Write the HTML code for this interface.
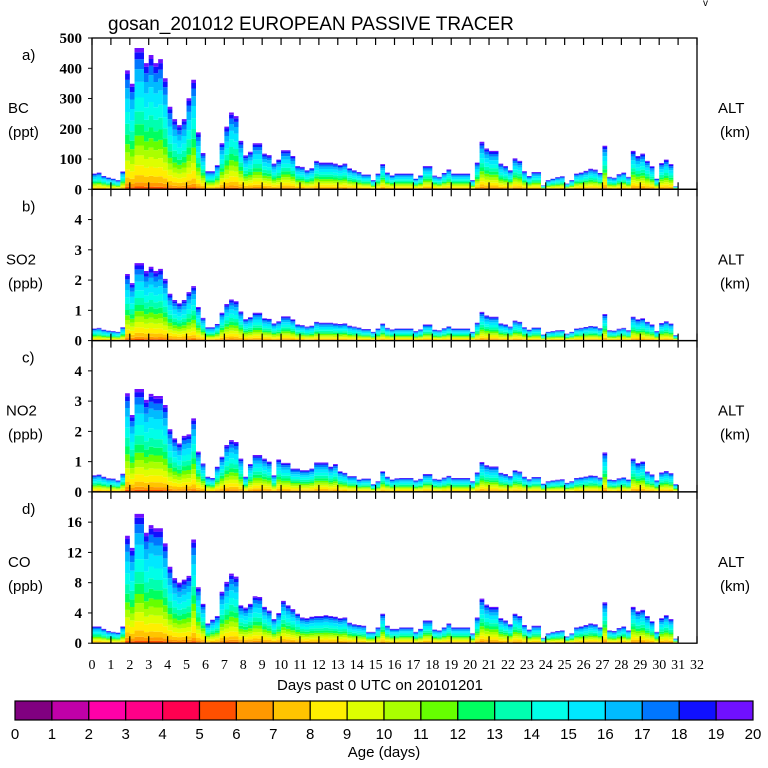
<!DOCTYPE html>
<html><head><meta charset="utf-8"><style>
body{margin:0;background:#fff;width:768px;height:768px;overflow:hidden}
svg{display:block}
.s{font-family:"Liberation Sans",sans-serif;fill:#000}
.r{font-family:"Liberation Serif",serif;fill:#000}
</style></head><body>
<svg id="chart" width="768" height="768" viewBox="0 0 768 768">
<text class="s" x="108" y="30" font-size="19">gosan_201012 EUROPEAN PASSIVE TRACER</text>
<text class="s" x="703" y="6" font-size="10">v</text>
<g id="panels"></g>
<g id="xticks"></g>
<text class="s" x="380" y="690" font-size="15" text-anchor="middle">Days past 0 UTC on 20101201</text>
<g id="cbar"></g>
<text class="s" x="384" y="757" font-size="15" text-anchor="middle">Age (days)</text>
</svg>
<script>
const bcValues=[52,55,44,39,35,30,59,393,349,467,467,417,444,417,430,367,273,232,212,232,301,362,188,120,60,60,80,152,207,254,242,160,112,124,152,152,118,113,85,98,129,129,110,77,74,63,70,94,88,88,88,85,80,85,69,63,57,49,49,30,52,83,55,46,52,52,52,52,35,46,77,77,45,41,54,66,52,52,52,52,30,88,157,135,127,127,85,77,63,102,94,60,44,57,57,13,30,35,40,43,19,30,52,55,61,68,65,54,144,41,38,50,55,41,127,110,118,94,76,35,87,98,83,10];
const so2Values=[.40,.42,.36,.33,.31,.29,.44,2.2,1.9,2.56,2.56,2.3,2.44,2.3,2.37,2.04,1.55,1.34,1.23,1.34,1.6,1.8,1.11,.75,.44,.44,.55,.92,1.21,1.36,1.3,.96,.71,.77,.92,.92,.74,.72,.57,.64,.80,.80,.70,.53,.51,.46,.49,.62,.59,.59,.59,.57,.55,.57,.49,.46,.43,.38,.38,.29,.40,.56,.42,.37,.40,.40,.40,.40,.31,.37,.53,.53,.36,.34,.41,.47,.40,.40,.40,.40,.29,.59,.95,.83,.79,.79,.57,.53,.46,.66,.62,.44,.36,.43,.43,.2,.29,.31,.34,.35,.23,.29,.40,.42,.45,.48,.47,.41,.88,.34,.33,.39,.42,.34,.79,.70,.74,.62,.53,.31,.58,.64,.56,.18];
const no2Values=[.55,.57,.5,.45,.44,.38,.6,3.26,2.54,3.4,3.4,3.04,3.24,3.17,3.17,2.87,2.07,1.77,1.6,1.85,1.9,2.43,1.33,.94,.5,.46,.83,1.16,1.55,1.71,1.65,1.1,.5,.92,1.22,1.22,1.1,1.0,.55,1.07,.96,.96,.77,.77,.72,.72,.77,.97,.97,.97,.83,.92,.68,.63,.52,.52,.41,.44,.44,.25,.35,.68,.5,.41,.45,.46,.46,.46,.38,.43,.59,.59,.43,.41,.47,.53,.46,.46,.46,.46,.35,.64,.99,.88,.84,.84,.63,.59,.52,.71,.67,.5,.42,.49,.49,.27,.35,.38,.4,.42,.3,.35,.46,.48,.51,.54,.53,.47,1.3,.41,.39,.45,.48,.41,1.1,.95,1.0,.67,.58,.38,.64,.69,.62,.25];
const coValues=[2.2,2.2,1.9,1.6,1.5,1.4,2.2,14.2,12.6,17.1,17.1,14.6,15.6,15.2,15.2,13.2,10.1,8.6,8.0,8.4,8.9,13.7,7.4,5.2,2.6,3.1,3.6,6.8,8.1,9.2,8.8,5.0,4.7,5.2,6.2,6.1,4.8,4.3,3.2,4.0,5.6,5.0,4.5,3.9,3.4,3.3,3.5,3.6,3.6,3.7,3.6,3.5,3.3,3.4,2.7,2.5,2.4,2.3,1.5,1.5,2.1,3.9,2.3,1.9,1.9,2.1,2.1,2.1,1.5,1.9,3.0,3.0,1.8,1.7,2.1,2.6,2.1,2.1,2.1,2.1,1.3,3.4,5.9,5.1,4.8,4.8,3.3,3.0,2.5,3.9,3.6,2.4,1.8,2.3,2.3,0.7,1.3,1.5,1.6,1.7,0.9,1.3,2.1,2.2,2.4,2.6,2.5,2.1,5.4,1.7,1.6,2.0,2.2,1.7,4.8,4.2,4.4,3.6,2.9,1.5,3.3,3.7,3.2,0.6];
const ageFractions=[0.02,0.03,0.05,0.07,0.07,0.07,0.07,0.08,0.09,0.10,0.11,0.09,0.07,0.05,0.03];
const ageColors=["#800080","#c000a8","#ff00a8","#ff0088","#ff0050","#ff5000","#ff9900","#ffc400","#ffee00","#ddff00","#aaff00","#66ff00","#00ff60","#00ffb0","#00ffe8","#00e8ff","#00bbff","#0077ff","#1010ff","#7010ff"];
const ageLabels=["0","1","2","3","4","5","6","7","8","9","10","11","12","13","14","15","16","17","18","19","20"];
const dayLabels=["0","1","2","3","4","5","6","7","8","9","10","11","12","13","14","15","16","17","18","19","20","21","22","23","24","25","26","27","28","29","30","31","32"];
const panelDefs=[
 {id:"a",name:"BC",unit:"(ppt)",vals:bcValues,max:500,ticks:["0","100","200","300","400","500"],tv:[0,100,200,300,400,500]},
 {id:"b",name:"SO2",unit:"(ppb)",vals:so2Values,max:5,ticks:["0","1","2","3","4"],tv:[0,1,2,3,4]},
 {id:"c",name:"NO2",unit:"(ppb)",vals:no2Values,max:5,ticks:["0","1","2","3","4"],tv:[0,1,2,3,4]},
 {id:"d",name:"CO",unit:"(ppb)",vals:coValues,max:20,ticks:["0","4","8","12","16"],tv:[0,4,8,12,16]}
];
const NS="http://www.w3.org/2000/svg";
const L=92,R=697,STEP=0.25,PH=151.3,TOP=38;
const X=d=>L+(R-L)*d/32;
function mk(tag,attrs,parent){const e=document.createElementNS(NS,tag);for(const k in attrs)e.setAttribute(k,attrs[k]);parent.appendChild(e);return e;}
const panels=document.getElementById("panels");
panelDefs.forEach((p,pi)=>{
 const top=TOP+pi*PH,bot=top+PH;
 const Y=v=>bot-(bot-top)*v/p.max;
 const g=mk("g",{},panels);
 
 
 const cum=p.vals.map(()=>0);
 ageFractions.forEach((f,k)=>{
  const lowArr=cum.slice();
  p.vals.forEach((v,i)=>{cum[i]+=v*f;});
  let up="";
  p.vals.forEach((v,i)=>{up+="L"+X(i*STEP)+","+Y(cum[i])+"L"+X((i+1)*STEP)+","+Y(cum[i]);});
  let down="";
  for(let i=p.vals.length-1;i>=0;i--){down+="L"+X((i+1)*STEP)+","+Y(lowArr[i])+"L"+X(i*STEP)+","+Y(lowArr[i]);}
  const path=mk("path",{d:"M"+X(0)+","+Y(lowArr[0])+up+down+"Z",fill:ageColors[k+5]},g);
  
  
 });
 const fr=mk("rect",{x:L,y:top,width:R-L,height:bot-top,fill:"none",stroke:"#000","stroke-width":1.3},g);
 
 
 for(let d=0;d<=32;d++){
  const t1=mk("line",{x1:X(d),x2:X(d),y1:bot,y2:bot-7,stroke:"#000","stroke-width":1.2},g);
  
  
  const t2=mk("line",{x1:X(d),x2:X(d),y1:top,y2:top+7,stroke:"#000","stroke-width":1.2},g);
  
  
 }
 p.tv.forEach((v,j)=>{
  const tl=mk("line",{x1:L-4,x2:L,y1:Y(v),y2:Y(v),stroke:"#000","stroke-width":1},g);
  
  
  const t=mk("text",{x:82,y:Y(v)+5,"text-anchor":"end","font-size":15,"font-weight":"bold",class:"r"},g);
  t.textContent=p.ticks[j];
  
  
 });
 const lab=[[p.id+")",22,top+22],[p.name,p.name.length>2?6:8,top+75],[p.unit,8,top+99],["ALT",718,top+75],["(km)",720,top+99]];
 lab.forEach((l,j)=>{
  const t=mk("text",{x:l[1],y:l[2],"font-size":15,class:"s"},g);
  t.textContent=l[0];
  
  
 });
});
const xt=document.getElementById("xticks");
dayLabels.forEach((s,d)=>{
 const t=mk("text",{x:X(d),y:669,"text-anchor":"middle","font-size":14,class:"r"},xt);
 t.textContent=s;
 
 
});
const cb=document.getElementById("cbar");
const CL=15,CR=753,CW=(CR-CL)/20;
for(let k=0;k<20;k++){
 const r=mk("rect",{x:CL+k*CW,y:701,width:CW,height:19,fill:ageColors[k],stroke:"#000","stroke-width":1.2},cb);
 
 
}
ageLabels.forEach((s,k)=>{
 const t=mk("text",{x:CL+k*CW,y:739,"text-anchor":"middle","font-size":15,class:"s"},cb);
 t.textContent=s;
 
 
});
</script>
</body></html>
